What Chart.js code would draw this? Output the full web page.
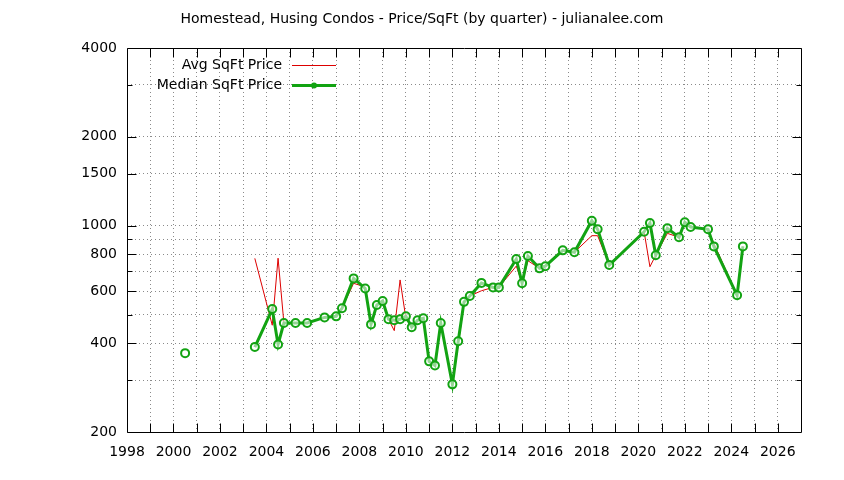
<!DOCTYPE html>
<html>
<head>
<meta charset="utf-8">
<script src="https://cdn.jsdelivr.net/npm/chart.js@4.4.1/dist/chart.umd.min.js"></script>
<style>
html,body{margin:0;padding:0;background:#fff;}
#wrap{width:844px;height:480px;}
</style>
</head>
<body>
<div id="wrap"><canvas id="c" width="844" height="480"></canvas></div>
<script>
const titleText = "Homestead, Husing Condos - Price/SqFt (by quarter) - julianalee.com";
const avgLabel = "Avg SqFt Price";
const medianLabel = "Median SqFt Price";

const quarters = [2000.5, 2002, 2003.5, 2004.25, 2004.5, 2004.75, 2005.25, 2005.75, 2006.5, 2007.0,
  2007.25, 2007.75, 2008.25, 2008.5, 2008.75, 2009.0, 2009.25, 2009.5, 2009.75, 2010.0,
  2010.25, 2010.5, 2010.75, 2011.0, 2011.25, 2011.5, 2012.0, 2012.25, 2012.5, 2012.75,
  2013.25, 2013.75, 2014.0, 2014.75, 2015.0, 2015.25, 2015.75, 2016.0, 2016.75, 2017.25,
  2018.0, 2018.25, 2018.75, 2020.25, 2020.5, 2020.75, 2021.25, 2021.75, 2022.0, 2022.25,
  2023.0, 2023.25, 2024.25, 2024.5];

const medianPrice = [370, null, 388, 522, 396, 468, 468, 468, 489, 493,
  525, 663, 613, 463, 539, 556, 482, 478, 482, 493,
  453, 478, 486, 347, 336, 468, 290, 406, 552, 578,
  640, 618, 618, 771, 638, 789, 717, 729, 825, 813,
  1040, 972, 736, 954, 1021, 794, 980, 914, 1027, 990,
  972, 851, 581, 851];

const avgPrice = [null, null, 775, 460, 776, 468, 468, 468, 489, 493,
  525, 638, 620, 463, 539, 556, 482, 441, 655, 485,
  453, 478, 486, 347, 336, 468, 290, 395, 545, 578,
  602, 618, 618, 730, 638, 761, 717, 729, 825, 813,
  925, 925, 736, 954, 726, 794, 942, 914, 1027, 990,
  972, 872, 581, 851];

const xMin = 1998, xMax = 2027;
const yTickValues = [200, 300, 400, 500, 600, 700, 800, 900, 1000, 1500, 2000, 3000, 4000];
const yTickLabels = [200, 400, 600, 800, 1000, 1500, 2000, 4000];

const FONT = "DejaVu Sans";
const FSIZE = 14;
const RED = "#dd0000";
const GREEN = "#12a312";

const medianData = quarters.map((q, i) => ({x: q, y: medianPrice[i]}));
const avgData = quarters.map((q, i) => ({x: q, y: avgPrice[i]}));

const framePlugin = {
  id: "frame",
  afterDraw(chart) {
    const ctx = chart.ctx;
    const a = chart.chartArea;
    const xs = chart.scales.x, ys = chart.scales.y;
    ctx.save();
    ctx.strokeStyle = "#000";
    ctx.lineWidth = 1;
    ctx.setLineDash([]);
    const L = Math.round(a.left) + 0.5, R = Math.round(a.right) + 0.5;
    const T = Math.round(a.top) + 0.5, B = Math.round(a.bottom) + 0.5;
    ctx.beginPath();
    ctx.rect(L, T, R - L, B - T);
    ctx.stroke();
    ctx.beginPath();
    xs.ticks.forEach(t => {
      if (t.value <= xMin || t.value >= xMax) return;
      const px = Math.round(xs.getPixelForValue(t.value)) + 0.5;
      ctx.moveTo(px, B); ctx.lineTo(px, B - 9);
      ctx.moveTo(px, T); ctx.lineTo(px, T + 9);
    });
    ys.ticks.forEach(t => {
      if (t.value <= 200 || t.value >= 4000) return;
      const py = Math.round(ys.getPixelForValue(t.value)) + 0.5;
      const len = yTickLabels.includes(t.value) ? 9 : 5;
      ctx.moveTo(L, py); ctx.lineTo(L + len, py);
      ctx.moveTo(R, py); ctx.lineTo(R - len, py);
    });
    ctx.stroke();
    ctx.fillStyle = "#000";
    ctx.font = FSIZE + "px '" + FONT + "'";
    ctx.textAlign = "center";
    ctx.textBaseline = "middle";
    ctx.fillText(titleText, 422, 19);
    ctx.textAlign = "right";
    ctx.fillText(avgLabel, 282, 65);
    ctx.fillText(medianLabel, 282, 85);
    ctx.strokeStyle = RED;
    ctx.lineWidth = 1;
    ctx.beginPath(); ctx.moveTo(292, 65.5); ctx.lineTo(336, 65.5); ctx.stroke();
    ctx.strokeStyle = GREEN;
    ctx.lineWidth = 3;
    ctx.beginPath(); ctx.moveTo(292, 85.5); ctx.lineTo(336, 85.5); ctx.stroke();
    ctx.fillStyle = GREEN;
    ctx.beginPath(); ctx.arc(314, 85.5, 3, 0, Math.PI * 2); ctx.fill();
    ctx.restore();
  }
};

new Chart(document.getElementById("c"), {
  type: "line",
  data: {
    datasets: [
      {
        label: medianLabel,
        data: medianData,
        borderColor: GREEN,
        borderWidth: 3,
        pointStyle: "circle",
        pointRadius: 4,
        pointBorderWidth: 2,
        pointBorderColor: GREEN,
        pointBackgroundColor: "rgba(255,255,255,0.55)",
        spanGaps: false,
        tension: 0
      },
      {
        label: avgLabel,
        data: avgData,
        borderColor: RED,
        borderWidth: 1,
        pointRadius: 0,
        spanGaps: false,
        tension: 0
      }
    ]
  },
  options: {
    responsive: false,
    devicePixelRatio: 1,
    animation: false,
    events: [],
    layout: {padding: {left: 0, top: 48, right: 43, bottom: 0}},
    plugins: {legend: {display: false}, title: {display: false}, tooltip: {enabled: false}},
    scales: {
      x: {
        type: "linear",
        min: xMin,
        max: xMax,
        afterFit(s) { s.height = 48; },
        afterBuildTicks(s) {
          const t = [];
          for (let v = xMin; v <= xMax; v++) t.push({value: v});
          s.ticks = t;
        },
        ticks: {
          autoSkip: false,
          maxRotation: 0,
          padding: 12,
          color: "#000",
          font: {family: FONT, size: FSIZE},
          callback: v => (v % 2 === 0 && v < xMax) ? String(v) : ""
        },
        grid: {drawTicks: false, color: "#8a8a8a", lineWidth: 1, tickLength: 0},
        border: {display: false, dash: [1, 3]}
      },
      y: {
        type: "logarithmic",
        min: 200,
        max: 4000,
        afterFit(s) { s.width = 127; },
        afterBuildTicks(s) { s.ticks = yTickValues.map(v => ({value: v})); },
        ticks: {
          autoSkip: false,
          padding: 10,
          color: "#000",
          font: {family: FONT, size: FSIZE},
          callback: v => yTickLabels.includes(v) ? String(v) : ""
        },
        grid: {drawTicks: false, color: "#8a8a8a", lineWidth: 1, tickLength: 0},
        border: {display: false, dash: [1, 3]}
      }
    }
  },
  plugins: [framePlugin]
});
</script>
</body>
</html>
